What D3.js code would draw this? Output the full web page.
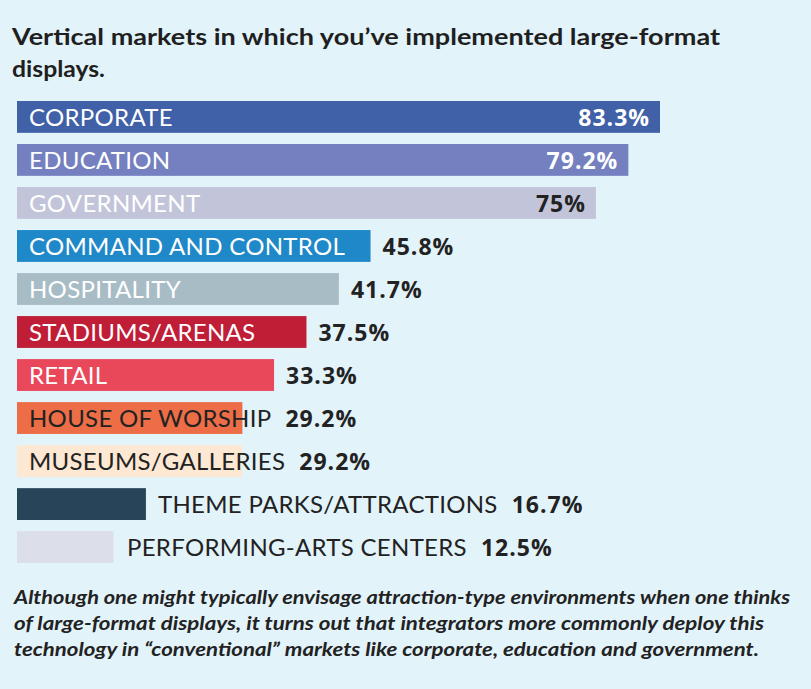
<!DOCTYPE html><html><head><meta charset="utf-8">
<script src="https://cdn.jsdelivr.net/npm/d3@7"></script>
<style>body{margin:0;background:#e2f3fa}</style></head><body>
<script>
const categories=["CORPORATE","EDUCATION","GOVERNMENT","COMMAND AND CONTROL","HOSPITALITY","STADIUMS/ARENAS","RETAIL","HOUSE OF WORSHIP","MUSEUMS/GALLERIES","THEME PARKS/ATTRACTIONS","PERFORMING-ARTS CENTERS"];
const values=[83.3,79.2,75,45.8,41.7,37.5,33.3,29.2,29.2,16.7,12.5];
const valueLabels=["83.3%","79.2%","75%","45.8%","41.7%","37.5%","33.3%","29.2%","29.2%","16.7%","12.5%"];
const colors=["#4060a8","#7480bf","#c2c5da","#1f88c9","#a8bcc6","#c01d36","#e9475a","#ec6d46","#fde9d3","#274458","#dcdfea"];
const W=811,H=689;
const svg=d3.select("body").append("svg").attr("width",W).attr("height",H);
svg.append("rect").attr("width",W).attr("height",H).attr("fill","#e2f3fa");
const ff="Lato, 'Open Sans', sans-serif";
svg.append("text").attr("x",12).attr("y",45).attr("font-family",ff).attr("font-weight",700).attr("font-size",23).attr("fill","#1f1f1f").attr("textLength",708).attr("lengthAdjust","spacingAndGlyphs").text("Vertical markets in which you’ve implemented large-format");
svg.append("text").attr("x",12).attr("y",77).attr("font-family",ff).attr("font-weight",700).attr("font-size",23).attr("fill","#1f1f1f").attr("textLength",93).attr("lengthAdjust","spacingAndGlyphs").text("displays.");
const x=d3.scaleLinear().domain([0,83.3]).range([17,660]);
const y=d3.scaleBand().domain(categories).range([101,101+42*11]).paddingInner(0.26).paddingOuter(0);
const g=svg.selectAll("g.r").data(categories).join("g");
g.append("rect").attr("x",x(0)).attr("y",d=>y(d)).attr("height",y.bandwidth()).attr("width",(d,i)=>x(values[i])-x(0)).attr("fill",(d,i)=>colors[i]);
const lblX=(i)=> i==9?158:(i==10?127:29);
const lblW=[];
g.append("text").attr("x",(d,i)=>lblX(i)).attr("y",d=>y(d)+y.bandwidth()/2+9).attr("font-family",ff).attr("font-size",24)
 .attr("letter-spacing",0.3)
 .attr("fill",(d,i)=>i<7?"#fff":"#222").text(d=>d).each(function(d,i){lblW[i]=this.getComputedTextLength();});
g.append("text").attr("font-family","'Open Sans', sans-serif").attr("font-weight",700).attr("font-size",23).attr("letter-spacing",1)
 .attr("y",d=>y(d)+y.bandwidth()/2+9)
 .attr("text-anchor",(d,i)=>i<3?"end":"start")
 .attr("x",(d,i)=>{ if(i<3) return x(values[i])-10; if(i<7) return x(values[i])+12; return lblX(i)+lblW[i]+14;})
 .attr("fill",(d,i)=>i<2?"#fff":"#222").text((d,i)=>valueLabels[i]);
const foot=["Although one might typically envisage attraction-type environments when one thinks","of large-format displays, it turns out that integrators more commonly deploy this","technology in “conventional” markets like corporate, education and government."];
const footW=[776,750,745];
svg.selectAll("text.f").data(foot).join("text").attr("x",14).attr("y",(d,i)=>604+i*26).attr("font-family",ff).attr("font-style","italic").attr("font-weight",700).attr("font-size",18).attr("fill","#222").attr("textLength",(d,i)=>footW[i]).attr("lengthAdjust","spacingAndGlyphs").text(d=>d);
</script></body></html>
